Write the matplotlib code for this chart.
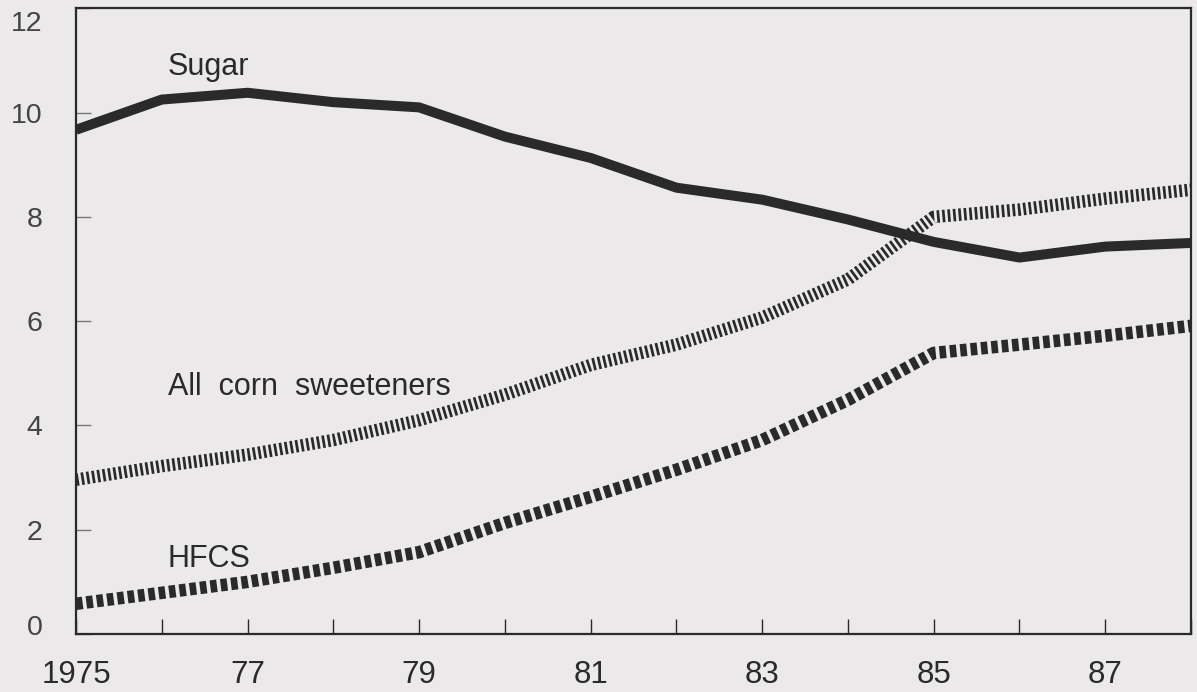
import matplotlib.pyplot as plt
import matplotlib as mpl
from matplotlib.transforms import ScaledTranslation

mpl.rcParams['lines.scale_dashes'] = False
plt.rcParams['font.family'] = ['Liberation Sans', 'DejaVu Sans']

years = list(range(1975, 1989))
sugar = [9.67, 10.25, 10.38, 10.2, 10.1, 9.54, 9.13, 8.56, 8.33, 7.95, 7.52, 7.22, 7.43, 7.5]
corn = [2.96, 3.22, 3.44, 3.72, 4.1, 4.59, 5.16, 5.55, 6.07, 6.8, 8.0, 8.14, 8.35, 8.52]
hfcs = [0.58, 0.79, 1.0, 1.27, 1.57, 2.13, 2.63, 3.15, 3.72, 4.49, 5.39, 5.55, 5.72, 5.91]
xtick_labels = ['1975', '77', '79', '81', '83', '85', '87']

bg = '#ebe9e9'
ink = '#2a2a2a'

fig = plt.figure(figsize=(11.97, 6.92), dpi=100, facecolor=bg)
ax = fig.add_axes([0.0635, 0.0838, 0.9315, 0.9042])
ax.set_facecolor(bg)

ax.plot(years, sugar, color=ink, lw=7.2, solid_capstyle='butt', solid_joinstyle='round')
ax.plot(years, corn, color=ink, lw=9, dashes=(1.95, 1.95), dash_capstyle='butt')
ax.plot(years, hfcs, color=ink, lw=9, dashes=(4.8, 2.7), dash_capstyle='butt')

ax.text(1976.07, 10.73, 'Sugar', fontsize=22, color=ink, va='baseline')
ax.text(1976.07, 4.59, 'All  corn  sweeteners', fontsize=22, color=ink, va='baseline')
ax.text(1976.07, 1.29, 'HFCS', fontsize=22, color=ink, va='baseline')

ax.set_xlim(1975, 1988)
ax.set_ylim(0, 12)
ax.set_xticks(years, minor=True)
ax.set_xticks(years[::2])
ax.set_xticklabels(xtick_labels)
ax.set_yticks(range(0, 13, 2))
ax.tick_params(axis='x', which='both', direction='in', length=11, width=1, color=ink,
               labelsize=22.5, labelcolor=ink, pad=19)
ax.tick_params(axis='y', direction='in', length=11, width=1, color='#777777',
               labelsize=20.5, labelcolor='#444444', pad=24)
for s in ax.spines.values():
    s.set_linewidth(1.6)
    s.set_color(ink)

# end labels sit inside the frame in the original
ylabels = ax.get_yticklabels()
ylabels[0].set_transform(ylabels[0].get_transform() + ScaledTranslation(0, 9 / 100, fig.dpi_scale_trans))
ylabels[-1].set_transform(ylabels[-1].get_transform() + ScaledTranslation(0, -13 / 100, fig.dpi_scale_trans))

fig.savefig('out.png', dpi=100, facecolor=bg)
